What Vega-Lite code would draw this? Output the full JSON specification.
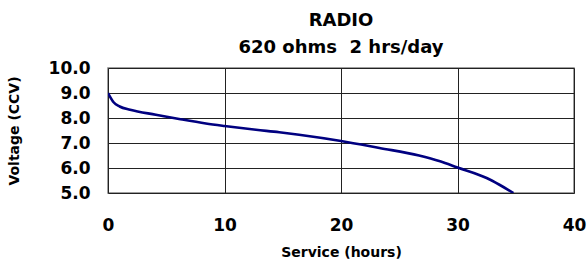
{
  "$schema": "https://vega.github.io/schema/vega-lite/v6.json",
  "autosize": {"type": "none"},
  "padding": {"left": 108, "top": 68, "right": 13, "bottom": 71},
  "width": 466,
  "height": 125,
  "background": "white",
  "config": {
    "font": "DejaVu Sans",
    "view": {"stroke": "#808080", "strokeWidth": 1.5}
  },
  "title": {
    "text": "RADIO",
    "subtitle": "620 ohms\u00a0 2 hrs/day",
    "frame": "group",
    "font": "DejaVu Sans",
    "fontSize": 18,
    "fontWeight": "bold",
    "color": "#000000",
    "subtitleFont": "DejaVu Sans",
    "subtitleFontSize": 18,
    "subtitleFontWeight": "bold",
    "subtitleColor": "#000000",
    "subtitlePadding": 9,
    "anchor": "middle",
    "offset": 2
  },
  "data": {
    "values": [
      {"hours": 0.0, "voltage": 9.0},
      {"hours": 0.5, "voltage": 8.62},
      {"hours": 1.0, "voltage": 8.46},
      {"hours": 1.9, "voltage": 8.33},
      {"hours": 4.1, "voltage": 8.13},
      {"hours": 6.1, "voltage": 7.96},
      {"hours": 8.4, "voltage": 7.78},
      {"hours": 10.0, "voltage": 7.68},
      {"hours": 12.7, "voltage": 7.53},
      {"hours": 14.7, "voltage": 7.43},
      {"hours": 16.4, "voltage": 7.33},
      {"hours": 20.0, "voltage": 7.08},
      {"hours": 23.3, "voltage": 6.8},
      {"hours": 26.7, "voltage": 6.5},
      {"hours": 28.5, "voltage": 6.27},
      {"hours": 30.0, "voltage": 6.02},
      {"hours": 32.5, "voltage": 5.6},
      {"hours": 33.6, "voltage": 5.33},
      {"hours": 34.8, "voltage": 5.0}
    ]
  },
  "mark": {"type": "line", "color": "#000080", "strokeWidth": 2.6, "interpolate": "monotone", "clip": true},
  "encoding": {
    "x": {
      "field": "hours",
      "type": "quantitative",
      "scale": {"domain": [0, 40], "nice": false, "zero": false},
      "axis": {
        "values": [0, 10, 20, 30, 40],
        "title": "Service (hours)",
        "titleFont": "DejaVu Sans",
        "titleFontSize": 14,
        "titleFontWeight": "bold",
        "titleColor": "#000000",
        "titlePadding": 12,
        "labelFont": "DejaVu Sans",
        "labelFontSize": 17,
        "labelFontWeight": "bold",
        "labelColor": "#000000",
        "labelPadding": 24,
        "labelFlush": false,
        "labelOverlap": false,
        "ticks": false,
        "domain": false,
        "grid": true,
        "gridColor": "#222222",
        "gridOpacity": 1,
        "gridWidth": 1
      }
    },
    "y": {
      "field": "voltage",
      "type": "quantitative",
      "scale": {"domain": [5, 10], "nice": false, "zero": false},
      "axis": {
        "values": [5, 6, 7, 8, 9, 10],
        "format": ".1f",
        "title": "Voltage (CCV)",
        "titleFont": "DejaVu Sans",
        "titleFontSize": 14,
        "titleFontWeight": "bold",
        "titleColor": "#000000",
        "titlePadding": 27,
        "labelFont": "DejaVu Sans",
        "labelFontSize": 17,
        "labelFontWeight": "bold",
        "labelColor": "#000000",
        "labelPadding": 18,
        "labelFlush": false,
        "labelOverlap": false,
        "ticks": false,
        "domain": false,
        "grid": true,
        "gridColor": "#222222",
        "gridOpacity": 1,
        "gridWidth": 1
      }
    }
  }
}
